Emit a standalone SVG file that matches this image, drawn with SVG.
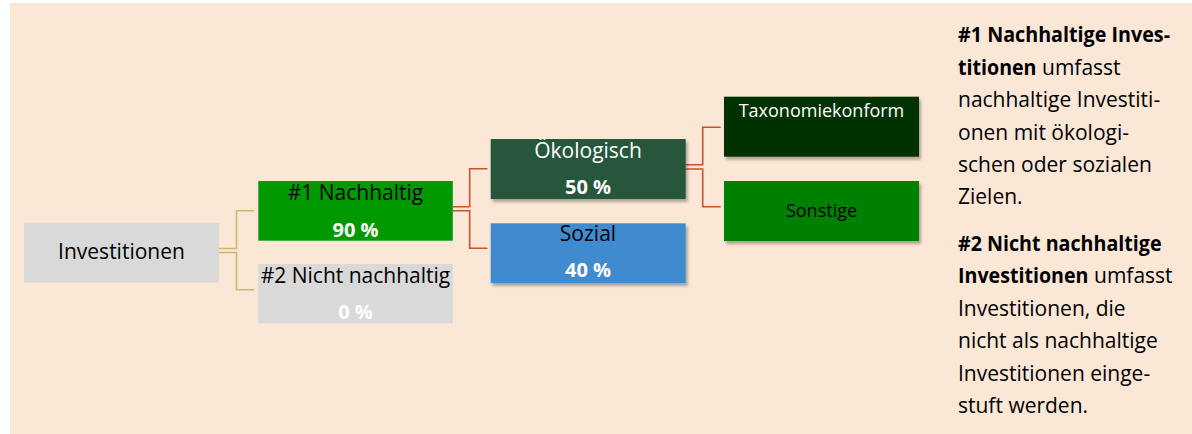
<svg xmlns="http://www.w3.org/2000/svg" width="1192" height="434" viewBox="0 0 1192 434">
<defs>
<style>
text{font-family:"Open Sans","Noto Sans","Liberation Sans",sans-serif;}
.lbl{font-size:21px;text-anchor:middle;}
.sm{font-size:18px;text-anchor:middle;}
.pct{font-size:20px;font-weight:bold;fill:#FFFFFF;text-anchor:middle;}
.blk{fill:#000000;}
.wht{fill:#FFFFFF;}
.note{font-size:21px;fill:#000000;}
.b{font-weight:bold;}
.tan{fill:none;stroke:#C9BA6B;stroke-width:1.6;}
.red{fill:none;stroke:#C5552D;stroke-width:1.6;}
</style>
<filter id="sh" x="-10%" y="-10%" width="125%" height="140%">
<feDropShadow dx="2" dy="3" stdDeviation="1.5" flood-color="#000000" flood-opacity="0.3"/>
</filter>
</defs>
<rect x="10" y="3" width="1182" height="431" fill="#FBE7D6"/>
<g id="connectors">
<path class="tan" d="M219,248.5 H236.5 V210.7 H254"/>
<path class="tan" d="M219,252.5 H236.5 V289.7 H254"/>
<path class="red" d="M453,206.7 H469.7 V168.7 H487.5"/>
<path class="red" d="M453,210.7 H469.7 V248.3 H487.5"/>
<path class="red" d="M685.5,164.7 H702.7 V127.3 H720.7"/>
<path class="red" d="M685.5,169 H702.7 V206.7 H720.7"/>
</g>
<g id="investitionen">
<rect x="24" y="223" width="195" height="59.5" fill="#D9D9D9"/>
<text class="lbl blk" x="121.5" y="259">Investitionen</text>
</g>
<g id="nachhaltig">
<rect x="258.3" y="181" width="194.5" height="59.7" fill="#009900"/>
<text class="lbl blk" x="355.5" y="199.5">#1 Nachhaltig</text>
<text class="pct" x="355.5" y="237">90 %</text>
</g>
<g id="nicht-nachhaltig">
<rect x="258.3" y="264" width="194.5" height="59.5" fill="#D9D9D9"/>
<text class="lbl blk" x="355.5" y="283">#2 Nicht nachhaltig</text>
<text class="pct" x="355.5" y="318.5">0 %</text>
</g>
<g id="oekologisch">
<rect x="490.7" y="139" width="195" height="60" fill="#25573B" filter="url(#sh)"/>
<text class="lbl wht" x="588" y="158">Ökologisch</text>
<text class="pct" x="588" y="193.5">50 %</text>
</g>
<g id="sozial">
<rect x="490.7" y="223.3" width="195" height="59.7" fill="#3F8BD0" filter="url(#sh)"/>
<text class="lbl blk" x="588" y="241">Sozial</text>
<text class="pct" x="588" y="277">40 %</text>
</g>
<g id="taxonomiekonform">
<rect x="724" y="96.7" width="195" height="60" fill="#003300" filter="url(#sh)"/>
<text class="sm wht" x="821.5" y="116.7">Taxonomiekonform</text>
</g>
<g id="sonstige">
<rect x="724" y="181" width="195" height="60" fill="#008000" filter="url(#sh)"/>
<text class="sm blk" x="821.5" y="216.7">Sonstige</text>
</g>
<g id="legende">
<text class="note b" x="958" y="42.3" textLength="212" lengthAdjust="spacingAndGlyphs">#1 Nachhaltige Inves-</text>
<text class="note" y="74.7"><tspan class="b" x="958" textLength="78.5" lengthAdjust="spacingAndGlyphs">titionen</tspan><tspan x="1042">umfasst</tspan></text>
<text class="note" x="958" y="107.1">nachhaltige Investiti-</text>
<text class="note" x="958" y="139.5">onen mit ökologi-</text>
<text class="note" x="958" y="171.9">schen oder sozialen</text>
<text class="note" x="958" y="204.3">Zielen.</text>
<text class="note b" x="958" y="251" textLength="203.5" lengthAdjust="spacingAndGlyphs">#2 Nicht nachhaltige</text>
<text class="note" y="283.4"><tspan class="b" x="958" textLength="130.4" lengthAdjust="spacingAndGlyphs">Investitionen</tspan><tspan x="1094">umfasst</tspan></text>
<text class="note" x="958" y="315.8">Investitionen, die</text>
<text class="note" x="958" y="348.2">nicht als nachhaltige</text>
<text class="note" x="958" y="380.6">Investitionen einge-</text>
<text class="note" x="958" y="413">stuft werden.</text>
</g>
</svg>
